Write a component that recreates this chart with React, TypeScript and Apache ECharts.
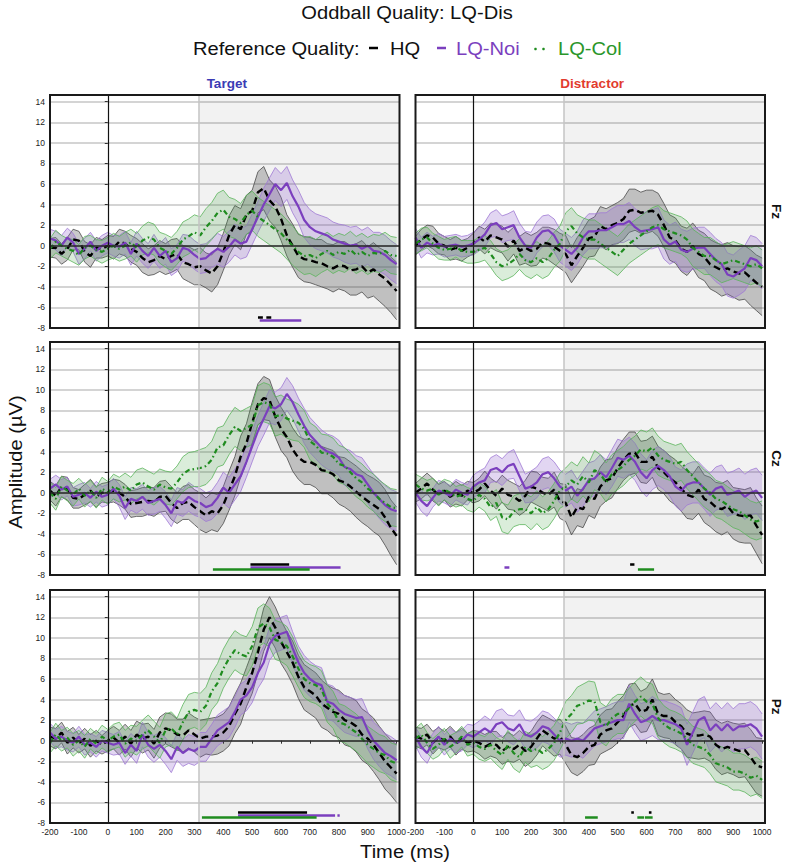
import React, { useEffect, useRef } from "react";
import * as echarts from "echarts";

// ---------- DATA ----------
const TIMES = [
  -200, -180, -160, -140, -120, -100, -80, -60, -40, -20,
  0, 20, 40, 60, 80, 100, 120, 140, 160, 180,
  200, 220, 240, 260, 280, 300, 320, 340, 360, 380,
  400, 420, 440, 460, 480, 500, 520, 540, 560, 580,
  600, 620, 640, 660, 680, 700, 720, 740, 760, 780,
  800, 820, 840, 860, 880, 900, 920, 940, 960, 980,
  1000,
];

const X_TICKS = [-200, -100, 0, 100, 200, 300, 400, 500, 600, 700, 800, 900, 1000];
const Y_TICKS = [-8, -6, -4, -2, 0, 2, 4, 6, 8, 10, 12, 14];

const SERIES_NAMES = ["HQ", "LQ-Noi", "LQ-Col"];
const COLUMN_NAMES = ["Target", "Distractor"];
const ROW_NAMES = ["Fz", "Cz", "Pz"];

// Target Fz
const TFZ_HQ = [
  -0.2, -0.2, -0.8, -0.3, 0.6, 0.5, -0.6, -1.0, -0.2, -0.3,
  0.0, -0.2, 0.4, 0.2, -0.3, -0.6, -1.2, -1.6, -1.4, -1.0,
  -1.3, -1.0, -0.8, -1.6, -1.8, -2.1, -2.0, -2.4, -2.7, -2.0,
  -0.6, 1.0, 2.0, 1.6, 3.0, 3.4, 5.2, 5.6, 4.4, 3.8,
  2.6, 1.0, 0.0, -1.0, -1.3, -1.4, -1.6, -1.7, -2.0, -2.2,
  -1.9, -2.0, -2.4, -2.3, -2.0, -2.6, -2.3, -2.8, -3.2, -3.8,
  -4.4,
];
const TFZ_NOI = [
  0.7, 0.5, 0.0, 0.8, 0.3, -0.8, -0.3, 0.4, -0.5, 0.0,
  0.3, 0.0, -0.1, 0.3, -0.8, 0.2, -0.5, -1.0, -0.2, -1.0,
  -0.5, -1.6, -1.2, -0.2, -0.4, -0.9, -1.3, -1.2, -0.7, -0.3,
  -0.6, -0.1, 0.6, 0.2, 0.4, 1.6, 2.8, 4.0, 5.0, 6.0,
  5.4, 6.1, 4.8, 3.8, 2.5, 1.8, 1.4, 1.2, 1.0, 0.6,
  0.4, 0.2, 0.0, 0.1, -0.3, 0.0, -0.5, -0.6, -0.9, -1.4,
  -1.8,
];
const TFZ_COL = [
  -0.3, 0.4, 0.0, -0.3, -0.5, -0.9, -0.2, 0.0, -0.4, -0.6,
  -0.3, 0.0, -0.3, 0.0, 0.3, -0.2, 0.5, 0.8, 0.6, -0.2,
  -0.5, -0.8, -0.2, 0.6, 0.9, 1.3, 1.0, 1.8, 2.4, 3.2,
  3.5, 2.8, 2.6, 2.2, 3.0, 3.4, 2.8, 2.4, 2.0, 1.6,
  1.2, 0.6, 0.0, -0.6, -1.0, -0.9, -1.2, -0.8, -0.5, -0.9,
  -0.6, -0.8, -0.4, -0.9, -0.6, -1.0, -0.7, -0.8, -0.5, -0.9,
  -1.0,
];

// Distractor Fz
const DFZ_HQ = [
  0.0, 0.6, 1.0, 0.8, 0.2, 0.0, -0.4, -0.2, -0.5, -0.2,
  0.2, 0.8, 0.4, 1.0, 0.8, 0.6, -0.1, 0.5, -0.5, -0.2,
  -0.5, -0.3, 0.3, 0.2, -0.1, -0.5, -0.8, -1.9, -1.0, -0.2,
  0.7, 0.9, 1.9, 1.6, 2.0, 2.2, 2.6, 3.4, 3.5, 3.2,
  3.3, 3.4, 3.0, 2.0, 0.8, 0.5, -0.3, -0.6, 0.0, -0.8,
  -1.1, -1.8, -2.1, -2.4, -2.2, -2.5, -2.7, -2.6, -3.1, -3.6,
  -4.0,
];
const DFZ_NOI = [
  0.8, -0.2, 0.3, 0.0, 0.2, -0.1, 0.0, 0.1, -0.1, 0.0,
  0.2, 0.6, 1.1, 2.0, 2.2, 1.6, 1.8, 2.0, 0.8, 0.0,
  -0.2, 0.8, 1.4, 1.5, 1.0, 0.0, -0.4, -0.8, -0.2, 0.8,
  1.4, 1.4, 1.5, 1.5, 1.8, 2.1, 2.1, 2.4, 1.8, 1.4,
  1.5, 1.6, 1.8, 0.6, 0.1, 0.4, -0.4, -0.6, -0.3, -0.2,
  -0.2, -0.8, -1.4, -1.8, -2.8, -3.0, -2.6, -2.2, -1.2, -1.4,
  -2.0,
];
const DFZ_COL = [
  0.2, 0.6, 0.8, 0.2, -0.2, -0.4, -0.3, -0.1, -0.5, -0.6,
  -0.6, -0.4, -0.2, -0.8, -1.6, -2.0, -1.8, -1.4, -0.8, -1.4,
  -1.6, -1.2, -1.6, -1.2, -0.4, 0.2, 1.4, 1.9, 1.2, 0.8,
  0.6, 0.6, 0.2, -0.2, -0.6, -1.0, -0.4, 0.2, 0.6, 1.0,
  1.4, 1.8, 2.0, 1.6, 1.4, 1.2, 1.0, 0.6, -0.2, -0.6,
  -1.0, -1.0, -1.4, -1.8, -1.6, -1.4, -1.6, -1.8, -2.0, -1.8,
  -2.2,
];

// Target Cz
const TCZ_HQ = [
  0.2, -0.3, 0.6, 0.4, -0.5, -0.6, -0.2, 0.2, -0.4, 0.0,
  0.0, 0.2, 0.0, -0.4, -1.1, -1.0, -0.9, -0.8, -0.9, -0.4,
  -0.3, -1.0, -1.5, -1.0, -0.9, -1.4, -1.8, -2.2, -1.8, -2.0,
  -1.2, 0.2, 1.6, 3.5, 4.8, 6.8, 8.6, 9.2, 9.0, 7.4,
  6.2, 5.4, 4.2, 3.4, 3.0, 3.0, 2.7, 2.2, 2.1, 1.8,
  1.2, 1.0, 0.6, 0.1, -0.4, -0.8, -1.2, -1.6, -2.4, -3.4,
  -4.2,
];
const TCZ_NOI = [
  0.4, 0.8, 0.3, 0.6, -0.4, -0.2, 0.0, -0.5, 0.1, -0.4,
  -0.2, 0.4, -0.3, -1.5, -0.6, -0.8, -0.4, -1.0, -0.8, -0.6,
  -1.2, -2.0, -0.8, -1.0, -0.4, -0.8, -1.0, -1.4, -1.2, -0.5,
  0.5, 0.0, 0.8, 1.6, 3.0, 4.5, 6.0, 7.2, 8.4, 8.2,
  8.6, 9.6, 8.8, 7.6, 6.5, 5.6, 5.0, 4.4, 4.0, 3.8,
  3.4, 2.5, 2.3, 1.8, 1.6, 0.8, 0.0, -0.6, -1.2, -1.6,
  -1.8,
];
const TCZ_COL = [
  0.0, -0.6, 0.6, 0.2, -0.2, 0.4, -0.3, 0.2, -0.5, 0.4,
  0.0, 0.6, 0.3, 0.6, 0.2, 0.8, 1.0, 0.6, 0.3, 0.8,
  0.5, 0.4, 1.0, 1.8, 2.2, 2.3, 2.4, 2.6, 3.2, 4.4,
  4.6, 5.6, 6.4, 6.0, 6.3, 6.6, 8.5, 8.8, 8.6, 7.4,
  7.6, 7.2, 7.0, 6.8, 6.2, 5.0, 4.6, 3.9, 3.8, 3.5,
  2.8, 2.6, 2.0, 1.4, 1.0, 0.4, 0.0, -0.6, -1.0, -1.4,
  -1.5,
];

// Distractor Cz
const DCZ_HQ = [
  0.0, 0.4, 0.9, 0.3, -0.2, 0.2, -0.4, 0.0, -0.3, 0.2,
  0.0, 0.3, 0.9, 0.2, -0.3, 0.4, -0.2, -0.4, -0.8, -0.3,
  0.6, 0.4, 0.0, -0.2, 0.3, -0.8, -1.0, -2.4, -1.4, -1.6,
  -0.4, -0.6, 0.6, 1.2, 1.4, 2.4, 3.2, 3.8, 3.9, 3.0,
  3.0, 3.5, 2.4, 2.0, 1.4, 1.0, 0.4, -0.2, -0.4, 0.3,
  -0.6, -0.9, -1.4, -1.6, -1.3, -2.0, -2.2, -2.3, -2.2, -3.2,
  -4.1,
];
const DCZ_NOI = [
  0.0, -0.8, -1.3, -0.5, 0.2, 0.0, -0.3, 0.3, 0.0, -0.2,
  0.6, 1.0, 1.2, 2.2, 2.4, 2.0, 2.6, 2.8, 1.6, 0.4,
  0.6, 1.0, 1.8, 2.0, 1.4, 0.6, 0.2, 0.6, -0.3, 0.4,
  1.2, 1.4, 2.0, 1.5, 2.4, 3.4, 3.2, 3.6, 3.0, 2.0,
  1.4, 2.2, 2.6, 2.2, 1.6, 0.6, 0.2, 0.8, 1.0, 1.0,
  0.4, -0.2, 0.4, 0.6, -0.2, 0.0, 0.2, -0.4, 0.0, 0.2,
  -0.5,
];
const DCZ_COL = [
  0.8, 0.4, 0.2, 0.4, -0.2, 0.3, 0.0, -0.4, -0.2, -0.6,
  -0.8, -0.2, -0.6, -1.4, -1.0, -2.4, -2.6, -1.8, -1.6, -1.6,
  -2.0, -1.4, -2.0, -1.6, -0.8, 0.2, 0.6, 1.2, 0.8, 1.6,
  1.0, 2.2, 1.8, 1.0, 1.8, 2.2, 2.6, 3.2, 3.6, 4.2,
  4.0, 4.4, 3.6, 3.2, 3.0, 2.8, 3.0, 2.2, 1.6, 1.0,
  0.4, 0.0, -0.6, -0.8, -1.2, -1.6, -1.8, -2.2, -2.6, -2.8,
  -2.6,
];

// Target Pz
const TPZ_HQ = [
  0.4, 0.2, 0.8, -0.2, 0.3, -0.3, 0.2, -0.5, 0.0, -0.4,
  0.0, 0.3, -0.2, 0.4, -0.3, 0.6, 0.2, 0.4, -0.3, 0.8,
  1.2, 1.0, 0.6, 0.5, 1.0, 0.6, 0.2, 0.4, 0.4, 0.5,
  0.8, 1.4, 2.6, 3.6, 5.2, 6.6, 8.6, 10.8, 12.0, 11.0,
  9.6, 8.6, 7.6, 6.2, 5.2, 4.8, 4.4, 3.6, 3.2, 2.8,
  2.6, 2.0, 1.8, 1.4, 0.6, 0.2, -0.4, -1.2, -2.0, -2.6,
  -3.2,
];
const TPZ_NOI = [
  0.8, 0.2, 0.4, 0.0, -0.2, 0.4, -0.4, -0.2, -0.6, 0.0,
  -0.2, -0.4, -0.2, -1.2, -0.4, -1.0, 0.6, -0.4, -0.8, -0.4,
  -1.0, -1.8, -0.6, -1.2, -0.8, -1.0, -0.6, -0.6, 0.2, 1.0,
  1.4, 1.8, 2.8, 4.0, 4.4, 5.2, 6.6, 7.6, 9.4, 10.2,
  10.4, 10.6, 9.0, 7.6, 6.6, 6.0, 5.6, 5.4, 3.8, 3.6,
  3.0, 2.6, 2.4, 2.2, 2.3, 1.0, 0.0, -0.6, -1.2, -1.5,
  -1.9,
];
const TPZ_COL = [
  -0.2, 0.6, 0.0, 0.3, -0.4, 0.0, -0.6, 0.2, -0.3, 0.4,
  0.0, 0.4, 0.6, -0.3, 0.2, 0.0, 0.6, 1.0, 0.4, -0.2,
  1.0, 1.2, 0.6, 1.8, 2.8, 3.0, 2.8, 3.4, 4.8, 5.6,
  7.0, 8.0, 8.8, 8.4, 8.2, 9.2, 11.0, 11.4, 11.0, 9.8,
  9.6, 9.2, 8.2, 7.0, 6.0, 5.6, 5.4, 5.0, 3.6, 3.0,
  1.8, 1.6, 1.2, 0.8, 0.2, -0.4, -0.8, -1.2, -1.4, -2.0,
  -2.2,
];

// Distractor Pz
const DPZ_HQ = [
  0.4, 0.2, 0.6, -0.2, 0.3, 0.0, 0.4, -0.3, 0.2, -0.2,
  0.0, -0.2, -0.6, -0.3, -0.4, -1.0, -0.6, -0.8, -0.4, -1.0,
  -0.6, 0.2, 1.0, 0.6, 0.2, 0.4, -0.4, -1.4, -1.6, -1.2,
  -0.6, -0.4, 0.6, 1.0, 1.2, 1.8, 2.4, 3.4, 3.6, 2.8,
  3.0, 4.0, 2.6, 2.4, 2.4, 1.8, 1.4, 0.7, 0.5, 0.5,
  0.6, 0.4, -0.4, -0.8, -0.6, -0.8, -1.0, -0.9, -1.6, -2.4,
  -2.6,
];
const DPZ_NOI = [
  0.4, -0.6, -1.2, -0.2, 0.4, -0.4, 0.2, -0.2, 0.0, 0.6,
  0.4, 0.8, 1.2, 0.8, 1.6, 1.8, 1.2, 1.0, 1.6, 0.6,
  0.4, 0.8, 1.4, 1.2, 0.6, 0.0, 0.2, 0.0, 0.2, 0.0,
  0.6, 1.2, 1.4, 1.6, 1.8, 2.0, 2.0, 3.6, 2.6, 1.8,
  2.0, 2.4, 2.0, 2.0, 1.8, 1.6, 1.2, -0.4, 0.8, 2.0,
  2.3, 1.0, 1.6, 1.0, 1.6, 1.0, 1.4, 1.4, 1.6, 1.2,
  0.4,
];
const DPZ_COL = [
  0.2, 0.6, -0.2, -0.8, -0.4, 0.2, -0.6, -0.2, 0.4, -0.4,
  -0.2, -0.6, -0.8, -0.4, -1.0, -1.4, -0.4, -1.2, -1.6, -0.6,
  -1.0, -0.8, -1.2, -0.8, -0.2, 0.8, 2.0, 2.6, 3.4, 3.6,
  3.9, 3.8, 1.8, 1.4, 2.2, 2.6, 2.6, 3.2, 3.8, 4.3,
  3.8, 3.6, 2.2, 1.6, 1.2, 1.0, 0.7, 0.2, -0.4, -0.6,
  -0.8, -1.4, -2.2, -2.4, -2.6, -3.0, -3.0, -3.2, -3.6, -3.4,
  -3.8,
];

// Confidence band half-widths
const HW_HQ = [
  0.9, 1.0, 1.0, 1.1, 1.0, 0.9, 1.0, 1.1, 1.0, 0.9,
  1.0, 1.1, 1.2, 1.2, 1.3, 1.3, 1.4, 1.3, 1.4, 1.5,
  1.5, 1.6, 1.5, 1.6, 1.7, 1.7, 1.8, 1.7, 1.8, 1.8,
  1.8, 1.9, 1.9, 2.0, 1.9, 2.0, 2.0, 2.1, 2.0, 2.0,
  2.1, 2.0, 2.1, 2.1, 2.2, 2.2, 2.2, 2.3, 2.2, 2.3,
  2.3, 2.4, 2.4, 2.5, 2.5, 2.5, 2.6, 2.6, 2.7, 2.7,
  2.8,
];
const HW_NOI_T = [
  0.9, 0.9, 1.0, 0.9, 0.9, 1.0, 1.0, 0.9, 1.0, 1.0,
  1.0, 1.0, 1.1, 1.1, 1.1, 1.2, 1.2, 1.2, 1.3, 1.2,
  1.3, 1.3, 1.3, 1.3, 1.4, 1.4, 1.4, 1.4, 1.4, 1.5,
  1.5, 1.5, 1.5, 1.5, 1.5, 1.5, 1.5, 1.6, 1.6, 1.6,
  1.6, 1.6, 1.6, 1.6, 1.7, 1.7, 1.7, 1.7, 1.7, 1.7,
  1.7, 1.8, 1.8, 1.8, 1.8, 1.8, 1.8, 1.9, 1.9, 1.9,
  1.9,
];
const HW_NOI_D = [
  0.9, 1.0, 1.0, 0.9, 1.0, 1.0, 1.0, 1.0, 1.0, 1.0,
  1.1, 1.1, 1.2, 1.2, 1.3, 1.3, 1.3, 1.4, 1.4, 1.4,
  1.5, 1.5, 1.5, 1.5, 1.6, 1.6, 1.6, 1.6, 1.6, 1.7,
  1.7, 1.7, 1.7, 1.7, 1.8, 1.8, 1.8, 1.8, 1.8, 1.8,
  1.8, 1.9, 1.9, 1.9, 1.9, 1.9, 2.0, 2.0, 2.0, 2.0,
  2.0, 2.1, 2.1, 2.1, 2.1, 2.1, 2.2, 2.2, 2.2, 2.2,
  2.2,
];
const HW_COL = [
  1.0, 1.1, 1.0, 1.0, 1.1, 1.0, 1.1, 1.0, 1.0, 1.1,
  1.1, 1.2, 1.2, 1.3, 1.3, 1.4, 1.4, 1.5, 1.5, 1.5,
  1.6, 1.6, 1.6, 1.7, 1.7, 1.7, 1.8, 1.8, 1.8, 1.9,
  1.9, 1.9, 1.9, 1.9, 1.9, 1.9, 1.9, 1.9, 1.9, 1.9,
  1.9, 1.9, 1.9, 1.8, 1.8, 1.8, 1.8, 1.8, 1.8, 1.8,
  1.8, 1.8, 1.8, 1.8, 1.8, 1.8, 1.8, 1.8, 1.8, 1.8,
  1.8,
];

// Significance segments [start ms, end ms] per series (HQ, LQ-Noi, LQ-Col)
const SIG_LEVELS = [-7.0, -7.2, -7.4];
const SIG_TFZ = [[[520, 537], [549, 566]], [[526, 670]], []];
const SIG_DFZ = [[], [], []];
const SIG_TCZ = [[[494, 628]], [[494, 806]], [[364, 699]]];
const SIG_DCZ = [[[543, 558]], [[108, 125]], [[570, 626]]];
const SIG_TPZ = [[[451, 690]], [[451, 787], [795, 803]], [[326, 723]]];
const SIG_DPZ = [[[547, 556], [608, 617]], [], [[387, 431], [568, 591], [594, 621]]];

const SHADE_START = 314;

// ---------- LAYOUT / STYLE ----------
const X_MIN = -200;
const X_MAX = 1010;
const Y_MIN = -8;
const Y_MAX = 14.65;
const GRID_LEFT = [50, 415.5];
const GRID_TOP = [95, 342, 590];
const GRID_W = 349.5;
const GRID_H = 233;
const FONT = "Liberation Sans, Arial, sans-serif";

const LINE_COLORS = ["#000000", "#7b3fbe", "#1f8c1f"];
const TEXT_COLORS = ["#111111", "#7b3fbe", "#2a962a"];
const BAND_FILL = ["rgba(60,60,60,0.27)", "rgba(140,90,205,0.25)", "rgba(70,165,70,0.2)"];
const BAND_EDGE = ["#4a4a4a", "#a07ad4", "#5bb45b"];
const LINE_DASH: any[] = [[7, 4], "solid", [5, 3, 1.5, 3]];
const LINE_WIDTH = [2.4, 2.2, 2.2];

const PANELS = [
  { row: 0, col: 0, lines: [TFZ_HQ, TFZ_NOI, TFZ_COL], hw: [HW_HQ, HW_NOI_T, HW_COL], sig: SIG_TFZ },
  { row: 0, col: 1, lines: [DFZ_HQ, DFZ_NOI, DFZ_COL], hw: [HW_HQ, HW_NOI_D, HW_COL], sig: SIG_DFZ },
  { row: 1, col: 0, lines: [TCZ_HQ, TCZ_NOI, TCZ_COL], hw: [HW_HQ, HW_NOI_T, HW_COL], sig: SIG_TCZ },
  { row: 1, col: 1, lines: [DCZ_HQ, DCZ_NOI, DCZ_COL], hw: [HW_HQ, HW_NOI_D, HW_COL], sig: SIG_DCZ },
  { row: 2, col: 0, lines: [TPZ_HQ, TPZ_NOI, TPZ_COL], hw: [HW_HQ, HW_NOI_T, HW_COL], sig: SIG_TPZ },
  { row: 2, col: 1, lines: [DPZ_HQ, DPZ_NOI, DPZ_COL], hw: [HW_HQ, HW_NOI_D, HW_COL], sig: SIG_DPZ },
];

function buildOption() {
  const grid: any[] = [];
  const xAxis: any[] = [];
  const yAxis: any[] = [];
  const series: any[] = [];
  const graphic: any[] = [];

  PANELS.forEach((p, i) => {
    grid.push({ left: GRID_LEFT[p.col], top: GRID_TOP[p.row], width: GRID_W, height: GRID_H, containLabel: false });
    const bottomRow = p.row === 2;
    const leftCol = p.col === 0;
    xAxis.push({
      type: "value", gridIndex: i, min: X_MIN, max: X_MAX, interval: 100,
      axisLine: { show: false },
      axisTick: { show: bottomRow, length: 3, lineStyle: { color: "#333", width: 1 } },
      axisLabel: {
        show: bottomRow, fontSize: 8.5, color: "#222", fontFamily: FONT, margin: 4,
        formatter: (v: number) => (X_TICKS.indexOf(v) >= 0 ? String(v) : ""),
      },
      splitLine: { show: false },
    });
    yAxis.push({
      type: "value", gridIndex: i, min: Y_MIN, max: Y_MAX, interval: 2,
      axisLine: { show: false },
      axisTick: { show: leftCol, length: 3, lineStyle: { color: "#333", width: 1 } },
      axisLabel: {
        show: leftCol, fontSize: 8.5, color: "#222", fontFamily: FONT, margin: 5,
        formatter: (v: number) => (Y_TICKS.indexOf(v) >= 0 ? String(v) : ""),
      },
      splitLine: { show: true, lineStyle: { color: "#d4d4d4", width: 2 } },
    });

    // decorations: shaded post-stimulus window, reference lines
    series.push({
      type: "line", xAxisIndex: i, yAxisIndex: i, data: [[X_MIN, 0]], symbol: "none",
      lineStyle: { opacity: 0 }, silent: true, z: 1,
      markArea: {
        silent: true, itemStyle: { color: "rgba(0,0,0,0.05)" },
        data: [[{ xAxis: SHADE_START }, { xAxis: X_MAX }]],
      },
      markLine: {
        silent: true, symbol: ["none", "none"], label: { show: false },
        data: [
          { xAxis: SHADE_START, lineStyle: { color: "#c4c4c4", width: 1.5, type: "solid" } },
          { xAxis: 0, lineStyle: { color: "#111", width: 1.2, type: "solid" } },
          { yAxis: 0, lineStyle: { color: "#2a2a2a", width: 1.6, type: "solid" } },
        ],
      },
    });

    // confidence bands (custom polygons through the axis scales)
    [0, 1, 2].forEach((k) => {
      const m = p.lines[k];
      const h = p.hw[k];
      const lo = m.map((v, j) => +(v - h[j]).toFixed(2));
      const hi = m.map((v, j) => +(v + h[j]).toFixed(2));
      series.push({
        type: "custom", xAxisIndex: i, yAxisIndex: i, silent: true, z: 2,
        data: TIMES.map((t, j) => [t, lo[j], hi[j]]),
        encode: { x: 0, y: [1, 2] },
        renderItem: (params: any, api: any) => {
          if (params.dataIndex !== 0) return null;
          const up = TIMES.map((t, j) => api.coord([t, hi[j]]));
          const dn = TIMES.map((t, j) => api.coord([t, lo[j]]));
          return {
            type: "group",
            children: [
              { type: "polygon", shape: { points: up.concat(dn.slice().reverse()) }, style: { fill: BAND_FILL[k], stroke: null } },
              { type: "polyline", shape: { points: up }, style: { stroke: BAND_EDGE[k], lineWidth: 0.8, fill: null } },
              { type: "polyline", shape: { points: dn }, style: { stroke: BAND_EDGE[k], lineWidth: 0.8, fill: null } },
            ],
          };
        },
      });
    });

    // mean lines
    [0, 1, 2].forEach((k) => {
      series.push({
        name: SERIES_NAMES[k], type: "line", xAxisIndex: i, yAxisIndex: i,
        symbol: "none", silent: true, z: 3,
        data: TIMES.map((t, j) => [t, p.lines[k][j]]),
        lineStyle: { color: LINE_COLORS[k], width: LINE_WIDTH[k], type: LINE_DASH[k] },
      });
    });

    // significance bars
    const sigData: any[] = [];
    p.sig.forEach((segs: number[][], k: number) => {
      segs.forEach((s) => {
        sigData.push([
          { coord: [s[0], SIG_LEVELS[k]], lineStyle: { color: LINE_COLORS[k], width: 2.5, type: "solid" } },
          { coord: [s[1], SIG_LEVELS[k]] },
        ]);
      });
    });
    series.push({
      type: "line", xAxisIndex: i, yAxisIndex: i, data: [[X_MIN, 0]], symbol: "none",
      lineStyle: { opacity: 0 }, silent: true, z: 4,
      markLine: { silent: true, symbol: ["none", "none"], label: { show: false }, data: sigData },
    });

    // panel frame
    graphic.push({
      type: "rect", silent: true, z: 100,
      shape: { x: GRID_LEFT[p.col], y: GRID_TOP[p.row], width: GRID_W, height: GRID_H },
      style: { fill: "none", stroke: "#1a1a1a", lineWidth: 2 },
    });
  });

  const bigText = (text: string, x: number, y: number, align: string, fill: string, extra: any = {}) => ({
    type: "text", x, y, silent: true, z: 100, scaleX: 1.06, ...extra,
    style: {
      text, fill, fontSize: 19, fontFamily: FONT,
      align, textAlign: align, verticalAlign: "middle", textVerticalAlign: "middle",
    },
  });

  // title
  graphic.push(bigText("Oddball Quality: LQ-Dis", 407, 12, "center", "#111"));
  // legend
  graphic.push(bigText("Reference Quality:", 193, 48, "left", "#111"));
  graphic.push({ type: "line", silent: true, z: 100, shape: { x1: 369, y1: 48, x2: 378, y2: 48 }, style: { stroke: LINE_COLORS[0], lineWidth: 2.5 } });
  graphic.push(bigText(SERIES_NAMES[0], 390, 48, "left", TEXT_COLORS[0]));
  graphic.push({ type: "line", silent: true, z: 100, shape: { x1: 437, y1: 48, x2: 446, y2: 48 }, style: { stroke: LINE_COLORS[1], lineWidth: 2.5 } });
  graphic.push(bigText(SERIES_NAMES[1], 456, 48, "left", TEXT_COLORS[1]));
  graphic.push({ type: "circle", silent: true, z: 100, shape: { cx: 535.5, cy: 49, r: 1.3 }, style: { fill: LINE_COLORS[2] } });
  graphic.push({ type: "circle", silent: true, z: 100, shape: { cx: 543.5, cy: 49, r: 1.3 }, style: { fill: LINE_COLORS[2] } });
  graphic.push(bigText(SERIES_NAMES[2], 558, 48, "left", TEXT_COLORS[2]));

  // column headers
  const colColors = ["#3b3bb5", "#e23b2e"];
  COLUMN_NAMES.forEach((name, c) => {
    graphic.push({
      type: "text", x: GRID_LEFT[c] + GRID_W / 2 + 2, y: 83, silent: true, z: 100,
      style: {
        text: name, fill: colColors[c], fontSize: 13.5, fontWeight: "bold", fontFamily: FONT,
        align: "center", textAlign: "center", verticalAlign: "middle", textVerticalAlign: "middle",
      },
    });
  });
  // row labels
  ROW_NAMES.forEach((name, r) => {
    graphic.push({
      type: "text", x: 776, y: GRID_TOP[r] + GRID_H / 2, rotation: -Math.PI / 2, silent: true, z: 100,
      style: {
        text: name, fill: "#111", fontSize: 13.5, fontWeight: "bold", fontFamily: FONT,
        align: "center", textAlign: "center", verticalAlign: "middle", textVerticalAlign: "middle",
      },
    });
  });
  // axis titles
  graphic.push(bigText("Amplitude (\u00b5V)", 15, 462, "center", "#111", { rotation: Math.PI / 2 }));
  graphic.push(bigText("Time (ms)", 405, 851, "center", "#111"));

  return {
    animation: false,
    backgroundColor: "#ffffff",
    grid, xAxis, yAxis, series, graphic,
  };
}

export default function App() {
  const ref = useRef<HTMLDivElement>(null);
  useEffect(() => {
    const chart = echarts.init(ref.current as HTMLDivElement, null, { renderer: "svg" });
    chart.setOption(buildOption() as any);
    return () => chart.dispose();
  }, []);
  return (
    <div
      ref={ref}
      style={{ position: "absolute", left: 0, top: 0, width: 785, height: 868, background: "#fff" }}
    />
  );
}
